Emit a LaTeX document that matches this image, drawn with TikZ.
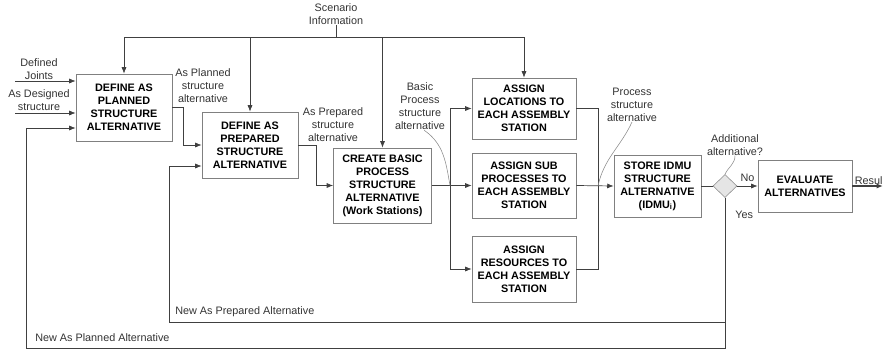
\documentclass[tikz,border=0pt]{standalone}
\usepackage{fontspec}
\setmainfont{Liberation Sans}
\usetikzlibrary{positioning}
\usetikzlibrary{arrows.meta}
\usetikzlibrary{calc}
\usetikzlibrary{shapes.geometric}

\tikzset{
    task/.style={draw=black!50, line width=0.6pt, fill=white, align=center, inner sep=1pt,
        font=\fontsize{7.7}{9.25}\selectfont\bfseries},
    lbl/.style={align=center, inner sep=0pt, text=black!80,
        font=\fontsize{7.7}{9.25}\selectfont},
    flow/.style={draw=black!75, line width=0.5pt, -{Latex[length=4.5pt,width=3.6pt]}},
    link/.style={draw=black!75, line width=0.5pt},
    callout/.style={draw=black!45, line width=0.4pt},
    choice/.style={diamond, aspect=1, draw=black!45, fill=black!10, inner sep=0pt,
        minimum width=0.6cm, minimum height=0.575cm}
}

\begin{document}
\begin{tikzpicture}[x=0.025cm, y=-0.025cm]
        \useasboundingbox (0,0) rectangle (883,349);

        \node[task, minimum width=2.4cm, minimum height=1.675cm] (planned) at (124,107.5)
            {DEFINE AS\\PLANNED\\STRUCTURE\\ALTERNATIVE};
        \node[task, minimum width=2.4cm, minimum height=1.65cm] (prepared) at (250,145)
            {DEFINE AS\\PREPARED\\STRUCTURE\\ALTERNATIVE};
        \node[task, minimum width=2.45cm, minimum height=1.875cm] (basic) at (382.5,185.5)
            {CREATE BASIC\\PROCESS\\STRUCTURE\\ALTERNATIVE\\(Work Stations)};
        \node[task, minimum width=2.6cm, minimum height=1.525cm] (locations) at (524,108.5)
            {ASSIGN\\LOCATIONS TO\\EACH ASSEMBLY\\STATION};
        \node[task, minimum width=2.6cm, minimum height=1.625cm] (subproc) at (524,185.5)
            {ASSIGN SUB\\PROCESSES TO\\EACH ASSEMBLY\\STATION};
        \node[task, minimum width=2.6cm, minimum height=1.65cm] (resources) at (524,269)
            {ASSIGN\\RESOURCES TO\\EACH ASSEMBLY\\STATION};
        \node[task, minimum width=2.175cm, minimum height=1.55cm] (store) at (657.5,186)
            {STORE IDMU\\STRUCTURE\\ALTERNATIVE\\(IDMU\textsubscript{i})};
        \node[choice] (decision) at (725,186) {};
        \node[task, minimum width=2.35cm, minimum height=1.3cm] (evaluate) at (805,186)
            {EVALUATE\\ALTERNATIVES};

        \node[lbl] (scenario) at (336,14) {Scenario\\Information};
        \node[lbl] (joints) at (39,69) {Defined\\Joints};
        \node[lbl] (designed) at (39,100.5) {As Designed\\structure};
        \node[lbl] (plannedout) at (203,85.5) {As Planned\\structure\\alternative};
        \node[lbl] (preparedout) at (333,124.5) {As Prepared\\structure\\alternative};
        \node[lbl] (basicout) at (420,106.5) {Basic\\Process\\structure\\alternative};
        \node[lbl] (procout) at (632,105) {Process\\structure\\alternative};
        \node[lbl] (addq) at (735,145) {Additional\\alternative?};
        \node[lbl, anchor=west] (yes) at (735,215) {Yes};
        \node[lbl, anchor=base west] (result) at (854.5,184) {Resul};
        \node[lbl, anchor=west] (newplanned) at (35,338) {New As Planned Alternative};
        \node[lbl, anchor=west] (newprepared) at (175,312) {New As Prepared Alternative};

        \coordinate (scbus) at (336,37);
        \coordinate (jointsin) at (15,81);
        \coordinate (designedin) at (15,113);
        \coordinate (split) at (450,185.5);
        \coordinate (merge) at (598,186);
        \coordinate (planloop) at (26,348);
        \coordinate (preploop) at (169,322);
        \coordinate (resultend) at (883,186);

        \draw[link] (scenario) -- (scbus);
        \draw[link] (planned.north |- scbus) -- (locations.north |- scbus);
        \draw[flow] (planned.north |- scbus) -- (planned.north);
        \draw[flow] (prepared.north |- scbus) -- (prepared.north);
        \draw[flow] (basic.north |- scbus) -- (basic.north);
        \draw[flow] (locations.north |- scbus) -- (locations.north);

        \draw[flow] (jointsin) -- (jointsin -| planned.west);
        \draw[flow] (designedin) -- (designedin -| planned.west);
        \draw[flow] (planned.east) -- ++(11,0) |- (prepared.west);
        \draw[flow] (prepared.east) -- ++(18,0) |- (basic.west);

        \draw[link] (basic.east) -- (split);
        \draw[flow] (split) |- (locations.west);
        \draw[flow] (split) -- (subproc.west);
        \draw[flow] (split) |- (resources.west);
        \draw[link] (locations.east) -| (merge);
        \draw[link] (resources.east) -| (merge);
        \draw[flow] (subproc.east) -- (store.west);

        \draw[link] (store.east) -- (decision.west);
        \draw[flow] (decision.east) -- node[lbl, above=3pt] (no) {No} (evaluate.west);
        \draw[flow, line width=1pt] (evaluate.east) -- (resultend);

        \draw[flow] (decision.south) |- (planloop) |- ($(planned.west)+(0,20.5)$);
        \draw[flow] (decision.south |- preploop) -- (preploop) |- ($(prepared.west)+(0,21)$);

        \draw[callout] ([xshift=3]basicout.south) to[out=-35,in=100] (split);
        \draw[callout] (procout.south) to[out=-115,in=78] (merge);
        \draw[callout] (addq.south) to[out=-90,in=65] (decision.north);
    \end{tikzpicture}
\end{document}
